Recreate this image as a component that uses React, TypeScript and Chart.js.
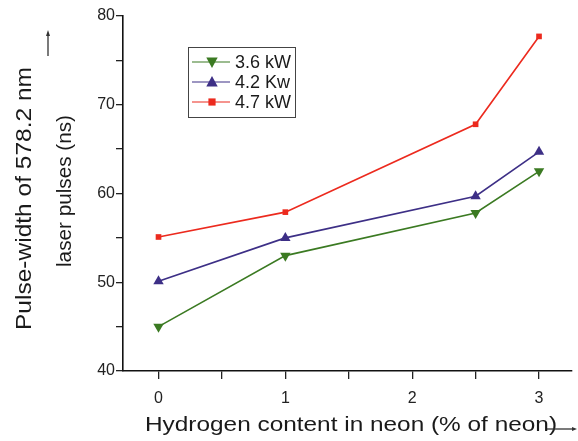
import React, { useEffect, useRef } from 'react';
import { Chart, registerables } from 'chart.js';
Chart.register(...registerables);

const hydrogen = [0, 1, 2.5, 3];
const series36 = [45, 53, 57.8, 62.5];
const series42 = [50.1, 55, 59.7, 64.7];
const series47 = [55.1, 57.9, 67.8, 77.7];
const seriesLabels = ['3.6 kW', '4.2 Kw', '4.7 kW'];
const seriesColors = ['#3b7a22', '#3d2f86', '#ec2a1e'];
const xTickValues = [0, 0.5, 1, 1.5, 2, 2.5, 3];
const yTickValues = [40, 45, 50, 55, 60, 65, 70, 75, 80];
const xTitle = 'Hydrogen content in neon (% of neon)';
const yTitleLines = ['Pulse-width of 578.2 nm', 'laser pulses (ns)'];

const FONT = "'Liberation Sans', Arial, sans-serif";

function fitText(ctx: CanvasRenderingContext2D, text: string, cx: number, cy: number, width: number, angle: number) {
  const w = ctx.measureText(text).width;
  ctx.save();
  ctx.translate(cx, cy);
  ctx.rotate(angle);
  ctx.scale(width / w, 1);
  ctx.textAlign = 'center';
  ctx.textBaseline = 'middle';
  ctx.fillText(text, 0, 0);
  ctx.restore();
}

function drawPt(ctx: CanvasRenderingContext2D, style: string, r: number, rot: number, x: number, y: number) {
  ctx.save();
  ctx.translate(x, y);
  ctx.rotate((rot * Math.PI) / 180);
  ctx.beginPath();
  if (style === 'triangle') {
    ctx.moveTo(0, -r);
    ctx.lineTo(r * 0.95, r * 0.75);
    ctx.lineTo(-r * 0.95, r * 0.75);
    ctx.closePath();
  } else {
    ctx.rect(-r * 0.8, -r * 0.8, r * 1.6, r * 1.6);
  }
  ctx.fill();
  ctx.restore();
}

const overlayPlugin = {
  id: 'overlay',
  afterDraw(chart: any) {
    const ctx = chart.ctx as CanvasRenderingContext2D;
    ctx.save();
    ctx.fillStyle = '#1a1a1a';
    ctx.font = `21px ${FONT}`;
    fitText(ctx, xTitle, 351, 425, 412, 0);
    // x arrow
    ctx.strokeStyle = '#333';
    ctx.lineWidth = 1.3;
    ctx.beginPath();
    ctx.moveTo(547, 429);
    ctx.lineTo(574, 429);
    ctx.stroke();
    ctx.beginPath();
    ctx.moveTo(577, 429);
    ctx.lineTo(572, 427);
    ctx.lineTo(572, 431);
    ctx.closePath();
    ctx.fillStyle = '#333';
    ctx.fill();

    // y titles
    ctx.fillStyle = '#1a1a1a';
    ctx.font = `22px ${FONT}`;
    fitText(ctx, yTitleLines[0], 25, 198.5, 263, -Math.PI / 2);
    ctx.font = `20px ${FONT}`;
    fitText(ctx, yTitleLines[1], 65, 191, 152, -Math.PI / 2);
    // y arrow
    ctx.beginPath();
    ctx.moveTo(48, 56);
    ctx.lineTo(48, 34);
    ctx.stroke();
    ctx.beginPath();
    ctx.moveTo(48, 30);
    ctx.lineTo(46, 36);
    ctx.lineTo(50, 36);
    ctx.closePath();
    ctx.fillStyle = '#333';
    ctx.fill();

    // legend
    const bx = 188, by = 47, bw = 107, bh = 70;
    ctx.strokeStyle = '#444';
    ctx.lineWidth = 1;
    ctx.strokeRect(bx + 0.5, by + 0.5, bw, bh);
    const rows = [62, 82, 102];
    const styles = ['triangle', 'triangle', 'rect'];
    const rots = [180, 0, 0];
    const radii = [6, 6, 4.5];
    rows.forEach((ry, i) => {
      ctx.strokeStyle = seriesColors[i];
      ctx.lineWidth = 1.2;
      ctx.beginPath();
      ctx.moveTo(192, ry);
      ctx.lineTo(230, ry);
      ctx.stroke();
      ctx.fillStyle = seriesColors[i];
      drawPt(ctx, styles[i], radii[i], rots[i], 212, ry);
      ctx.fillStyle = '#1a1a1a';
      ctx.font = `18px ${FONT}`;
      ctx.textAlign = 'left';
      ctx.textBaseline = 'middle';
      ctx.fillText(seriesLabels[i], 235, ry + 1);
    });
    ctx.restore();
  },
};

export default function App() {
  const ref = useRef<HTMLCanvasElement>(null);
  useEffect(() => {
    document.body.style.margin = '0';
    const mk = (vals: number[]) => hydrogen.map((x, i) => ({ x, y: vals[i] }));
    const chart = new Chart(ref.current!, {
      type: 'line',
      data: {
        datasets: [
          {
            label: seriesLabels[0],
            data: mk(series36),
            borderColor: seriesColors[0],
            backgroundColor: seriesColors[0],
            borderWidth: 1.6,
            pointStyle: 'triangle',
            rotation: 180,
            pointRadius: 6,
            pointBorderWidth: 0,
          },
          {
            label: seriesLabels[1],
            data: mk(series42),
            borderColor: seriesColors[1],
            backgroundColor: seriesColors[1],
            borderWidth: 1.6,
            pointStyle: 'triangle',
            pointRadius: 6,
            pointBorderWidth: 0,
          },
          {
            label: seriesLabels[2],
            data: mk(series47),
            borderColor: seriesColors[2],
            backgroundColor: seriesColors[2],
            borderWidth: 1.6,
            pointStyle: 'rect',
            pointRadius: 4,
            pointBorderWidth: 0,
          },
        ],
      },
      options: {
        animation: false,
        responsive: false,
        layout: { padding: { top: 16, right: 6, left: 0, bottom: 0 } },
        plugins: { legend: { display: false }, tooltip: { enabled: false } },
        scales: {
          x: {
            type: 'linear',
            min: -0.28,
            max: 3.26,
            afterBuildTicks: (s: any) => {
              s.ticks = xTickValues.map((v) => ({ value: v }));
            },
            afterFit: (s: any) => {
              s.height = 70;
            },
            ticks: {
              callback: (v: any) => (Number.isInteger(v) ? String(v) : ''),
              color: '#222',
              font: { size: 16, family: FONT },
              padding: 10,
              maxRotation: 0,
              autoSkip: false,
            },
            grid: { drawOnChartArea: false, drawTicks: true, tickLength: 8, color: '#222', lineWidth: 1.3 },
            border: { color: '#111', width: 1.6 },
          },
          y: {
            min: 40,
            max: 80,
            afterBuildTicks: (s: any) => {
              s.ticks = yTickValues.map((v) => ({ value: v }));
            },
            afterFit: (s: any) => {
              s.width = 123;
            },
            ticks: {
              callback: (v: any) => (v % 10 === 0 ? String(v) : ''),
              color: '#222',
              font: { size: 16, family: FONT },
              padding: 1,
              autoSkip: false,
            },
            grid: { drawOnChartArea: false, drawTicks: true, tickLength: 7, color: '#222', lineWidth: 1.3 },
            border: { color: '#111', width: 1.6 },
          },
        },
      },
      plugins: [overlayPlugin],
    });
    return () => chart.destroy();
  }, []);
  return <canvas ref={ref} width={578} height={441} style={{ display: 'block' }} />;
}
